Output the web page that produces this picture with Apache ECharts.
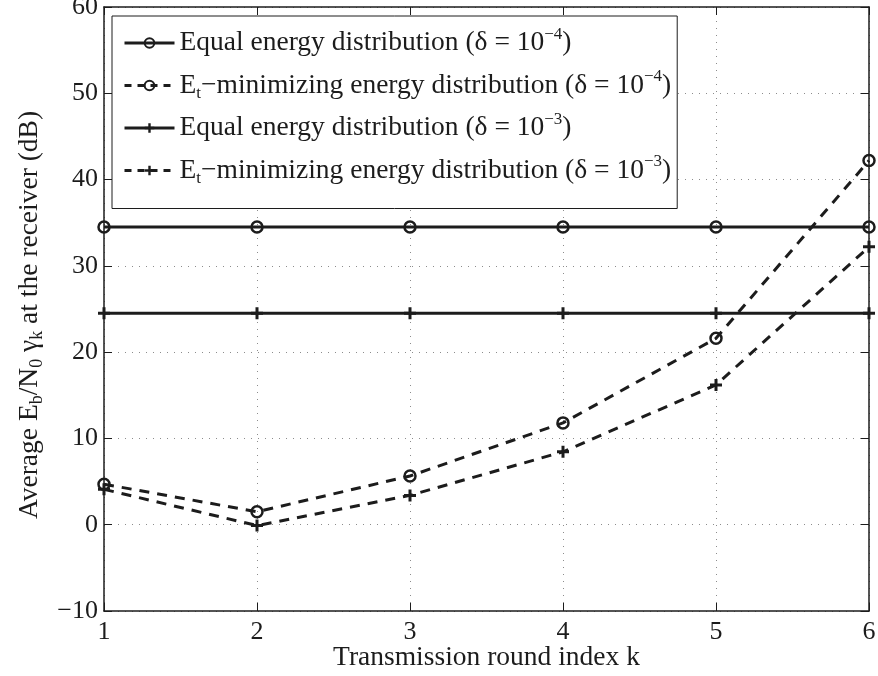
<!DOCTYPE html>
<html>
<head>
<meta charset="utf-8">
<script src="https://cdn.jsdelivr.net/npm/echarts@6/dist/echarts.min.js"></script>
<style>
  html, body { margin: 0; padding: 0; background: #fff; }
  #chart { width: 878px; height: 676px; }
</style>
</head>
<body>
<div id="chart"></div>
<script>
// Transmission rounds on the x axis
const rounds = [1, 2, 3, 4, 5, 6];

// Average Eb/N0 * gamma_k at the receiver (dB)
const equalDelta4 = [34.5, 34.5, 34.5, 34.5, 34.5, 34.5];
const minimizingDelta4 = [4.7, 1.5, 5.65, 11.8, 21.6, 42.2];
const equalDelta3 = [24.5, 24.5, 24.5, 24.5, 24.5, 24.5];
const minimizingDelta3 = [4.1, -0.1, 3.4, 8.45, 16.2, 32.2];

// Axis ranges and ticks
const xTicks = { min: 1, max: 6, interval: 1 };
const yTicks = { min: -10, max: 60, interval: 10 };

const seriesNames = [
  'Equal energy distribution (δ = 10^-4)',
  'Et-minimizing energy distribution (δ = 10^-4)',
  'Equal energy distribution (δ = 10^-3)',
  'Et-minimizing energy distribution (δ = 10^-3)'
];
const legendRich = [
  'Equal energy distribution (δ = 10{sup|−4})',
  'E{sub|t}−minimizing energy distribution (δ = 10{sup|−4})',
  'Equal energy distribution (δ = 10{sup|−3})',
  'E{sub|t}−minimizing energy distribution (δ = 10{sup|−3})'
];
const dashedSeries = [false, true, false, true];

const FONT = "'Liberation Serif', 'Times New Roman', serif";
const INK = '#1c1c1c';
const PLUS = 'path://M4.5,0H7.5V4.5H12V7.5H7.5V12H4.5V7.5H0V4.5H4.5Z';
const DASH = [10, 8];

function pairs(values) {
  return rounds.map((k, i) => [k, values[i]]);
}

function lineSeries(name, values, dashed, marker) {
  const isCircle = marker === 'circle';
  return {
    name: name,
    type: 'line',
    data: pairs(values),
    symbol: isCircle ? 'circle' : PLUS,
    symbolSize: isCircle ? 11 : 12,
    showAllSymbol: true,
    clip: false,
    lineStyle: { color: INK, width: 3, type: dashed ? DASH : 'solid' },
    itemStyle: isCircle
      ? { color: 'rgba(0,0,0,0)', borderColor: INK, borderWidth: 2.5 }
      : { color: INK, borderWidth: 0 },
    emphasis: { disabled: true },
    animation: false
  };
}

const tickFmt = v => (v < 0 ? '−' + Math.abs(v) : String(v));

const frameAxis = {
  axisLine: { show: true, onZero: false, lineStyle: { color: INK, width: 1.5 } },
  axisTick: { show: true, inside: true, length: 8, lineStyle: { color: INK, width: 1 } }
};
const gridDots = { show: true, lineStyle: { color: '#8c8c8c', width: 1, type: [1, 6] } };

const chart = echarts.init(document.getElementById('chart'), null, { renderer: 'canvas' });
chart.setOption({
  backgroundColor: '#fff',
  animation: false,
  textStyle: { fontFamily: FONT, color: INK },
  grid: { left: 104, right: 9, top: 7, bottom: 65, containLabel: false, outerBoundsMode: 'none' },
  legend: {
    orient: 'vertical',
    left: 112,
    top: 16,
    data: seriesNames.map((name, i) => ({
      name: name,
      lineStyle: { color: INK, width: 3, type: dashedSeries[i] ? [7, 6] : 'solid' }
    })),
    backgroundColor: '#fff',
    borderColor: INK,
    borderWidth: 1,
    borderRadius: 0,
    padding: [10, 6, 21, 11],
    itemWidth: 50,
    itemHeight: 12,
    itemGap: 8.5,
    selectedMode: false,
    formatter: name => legendRich[seriesNames.indexOf(name)],
    textStyle: {
      fontFamily: FONT,
      fontSize: 27.5,
      color: INK,
      lineHeight: 34,
      rich: {
        sup: { fontFamily: FONT, fontSize: 17, lineHeight: 17, verticalAlign: 'top', color: INK },
        sub: { fontFamily: FONT, fontSize: 17, lineHeight: 17, verticalAlign: 'bottom', color: INK }
      }
    }
  },
  xAxis: [
    Object.assign({
      type: 'value',
      position: 'bottom',
      min: xTicks.min, max: xTicks.max, interval: xTicks.interval,
      name: 'Transmission round index k',
      nameLocation: 'middle',
      nameGap: 33,
      nameMoveOverlap: false,
      nameTextStyle: { fontFamily: FONT, fontSize: 27.5, color: INK },
      axisLabel: { show: true, fontFamily: FONT, fontSize: 26, color: INK, margin: 8, formatter: tickFmt },
      splitLine: gridDots
    }, frameAxis),
    Object.assign({
      type: 'value',
      position: 'top',
      min: xTicks.min, max: xTicks.max, interval: xTicks.interval,
      axisLabel: { show: false },
      splitLine: { show: false }
    }, frameAxis)
  ],
  yAxis: [
    Object.assign({
      type: 'value',
      position: 'left',
      min: yTicks.min, max: yTicks.max, interval: yTicks.interval,
      name: 'Average E{sub|b}/N{sub|0} γ{sub|k} at the receiver (dB)',
      nameLocation: 'middle',
      nameGap: 58,
      nameMoveOverlap: false,
      nameRotate: 90,
      nameTextStyle: {
        fontFamily: FONT, fontSize: 27.5, color: INK, lineHeight: 32,
        padding: [0, 12, 0, 0],
        rich: {
          sub: { fontFamily: FONT, fontSize: 18, lineHeight: 18, verticalAlign: 'bottom', color: INK }
        }
      },
      axisLabel: { show: true, fontFamily: FONT, fontSize: 26, color: INK, margin: 6, formatter: tickFmt },
      splitLine: gridDots
    }, frameAxis),
    Object.assign({
      type: 'value',
      position: 'right',
      min: yTicks.min, max: yTicks.max, interval: yTicks.interval,
      axisLabel: { show: false },
      splitLine: { show: false }
    }, frameAxis)
  ],
  series: [
    lineSeries(seriesNames[0], equalDelta4, dashedSeries[0], 'circle'),
    lineSeries(seriesNames[1], minimizingDelta4, dashedSeries[1], 'circle'),
    lineSeries(seriesNames[2], equalDelta3, dashedSeries[2], 'plus'),
    lineSeries(seriesNames[3], minimizingDelta3, dashedSeries[3], 'plus')
  ]
});
</script>
</body>
</html>
